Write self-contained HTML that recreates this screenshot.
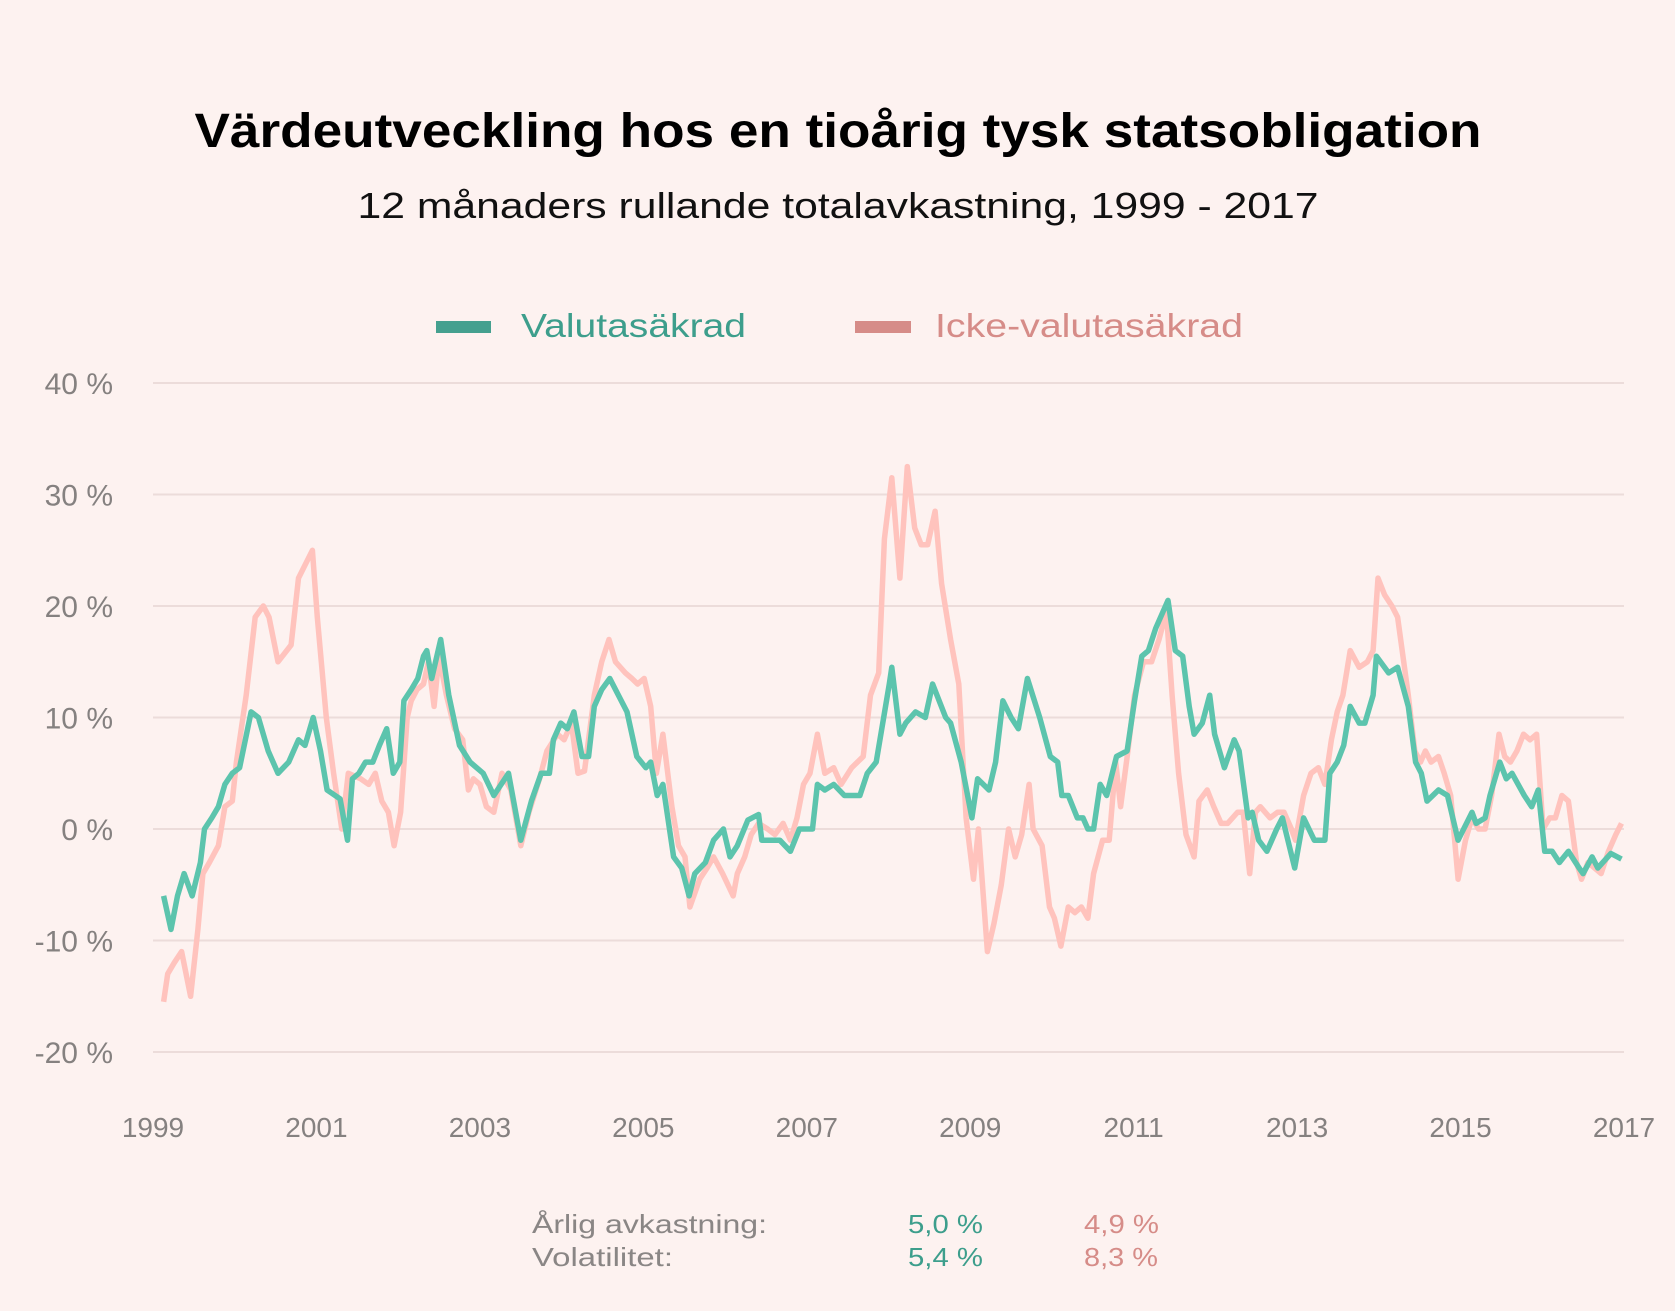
<!DOCTYPE html>
<html><head><meta charset="utf-8"><style>
html,body{margin:0;padding:0;background:#fdf2f0;}
svg{display:block;}
text{font-family:"Liberation Sans",sans-serif;}
</style></head><body>
<svg id="chart" width="1675" height="1311" viewBox="0 0 1675 1311" xmlns="http://www.w3.org/2000/svg">
<rect width="1675" height="1311" fill="#fdf2f0"/>
<text x="838" y="147" text-anchor="middle" font-size="48" font-weight="bold" fill="#000" textLength="1287" lengthAdjust="spacingAndGlyphs">Värdeutveckling hos en tioårig tysk statsobligation</text>
<text x="838" y="218" text-anchor="middle" font-size="36" fill="#111" textLength="961" lengthAdjust="spacingAndGlyphs">12 månaders rullande totalavkastning, 1999 - 2017</text>
<g>
<rect x="436" y="321" width="55" height="12" fill="#45a08f"/>
<text x="521" y="337" font-size="33" fill="#3d9e8c" textLength="225" lengthAdjust="spacingAndGlyphs">Valutasäkrad</text>
<rect x="855" y="321" width="56" height="12" fill="#d68c88"/>
<text x="935" y="337" font-size="33" fill="#d68c88" textLength="308" lengthAdjust="spacingAndGlyphs">Icke-valutasäkrad</text>
</g>
<g id="grid"></g>
<g id="yaxis"></g>
<g id="xaxis"></g>
<g id="series"></g>
<g font-size="26">
<text x="532" y="1233" fill="#8a8685" textLength="235" lengthAdjust="spacingAndGlyphs">Årlig avkastning:</text>
<text x="532" y="1266" fill="#8a8685" textLength="141" lengthAdjust="spacingAndGlyphs">Volatilitet:</text>
<text x="908" y="1233" fill="#3d9e8c" textLength="75" lengthAdjust="spacingAndGlyphs">5,0 %</text>
<text x="908" y="1266" fill="#3d9e8c" textLength="75" lengthAdjust="spacingAndGlyphs">5,4 %</text>
<text x="1084" y="1233" fill="#d68c88" textLength="75" lengthAdjust="spacingAndGlyphs">4,9 %</text>
<text x="1084" y="1266" fill="#d68c88" textLength="74" lengthAdjust="spacingAndGlyphs">8,3 %</text>
</g>
</svg>
<script>
const yTicks = [40, 30, 20, 10, 0, -10, -20];
const xTicks = [1999, 2001, 2003, 2005, 2007, 2009, 2011, 2013, 2015, 2017];
const greenDates = [0.13,0.22,0.30,0.38,0.48,0.58,0.63,0.72,0.80,0.88,0.97,1.06,1.20,1.29,1.41,1.53,1.66,1.78,1.86,1.96,2.05,2.13,2.29,2.38,2.44,2.52,2.60,2.69,2.77,2.86,2.94,3.02,3.07,3.16,3.24,3.31,3.35,3.41,3.52,3.62,3.75,3.88,4.04,4.17,4.35,4.50,4.63,4.75,4.85,4.90,4.99,5.07,5.15,5.25,5.33,5.40,5.49,5.59,5.80,5.92,6.03,6.09,6.17,6.24,6.37,6.47,6.56,6.63,6.76,6.86,6.98,7.06,7.15,7.28,7.41,7.45,7.67,7.80,7.91,8.07,8.13,8.22,8.33,8.46,8.65,8.74,8.85,9.01,9.04,9.14,9.21,9.33,9.45,9.54,9.70,9.76,9.89,10.02,10.09,10.23,10.31,10.40,10.50,10.59,10.70,10.85,10.98,11.07,11.12,11.20,11.31,11.38,11.44,11.51,11.59,11.67,11.79,11.92,12.01,12.10,12.18,12.27,12.42,12.51,12.60,12.68,12.74,12.84,12.93,12.99,13.11,13.23,13.29,13.40,13.45,13.53,13.63,13.75,13.82,13.97,14.08,14.21,14.34,14.40,14.49,14.57,14.65,14.76,14.83,14.93,14.97,15.12,15.23,15.36,15.45,15.52,15.59,15.73,15.84,15.97,16.14,16.19,16.30,16.36,16.48,16.56,16.63,16.78,16.87,16.95,17.03,17.12,17.21,17.32,17.45,17.50,17.61,17.68,17.84,17.97];
const greenValues = [-6,-9,-6,-4,-6,-3,0,1,2,4,5,5.5,10.5,10,7,5,6,8,7.5,10,7,3.5,2.7,-1,4.5,5,6,6,7.5,9,5,6,11.5,12.5,13.5,15.5,16,13.5,17,12,7.5,6,5,3,5,-1,2.5,5,5,8,9.5,9,10.5,6.5,6.5,11,12.5,13.5,10.5,6.5,5.5,6,3,4,-2.5,-3.5,-6,-4,-3,-1,0,-2.5,-1.5,0.8,1.3,-1,-1,-2,0,0,4,3.5,4,3,3,5,6,13,14.5,8.5,9.5,10.5,10,13,10,9.5,6,1,4.5,3.5,6,11.5,10,9,13.5,10,6.5,6,3,3,1,1,0,0,4,3,6.5,7,11.5,15.5,16,18,20.5,16,15.5,11,8.5,9.5,12,8.5,5.5,8,7,1,1.5,-1,-2,0,1,-3.5,1,-1,-1,5,6,7.5,11,9.5,9.5,12,15.5,14,14.5,11,6,5,2.5,3.5,3,-1,1.5,0.5,1,3,6,4.5,5,3,2,3.5,-2,-2,-3,-2,-3.5,-4,-2.5,-3.5,-2.2,-2.7];
const pinkDates = [0.13,0.18,0.26,0.35,0.46,0.55,0.61,0.69,0.80,0.88,0.97,1.02,1.14,1.25,1.35,1.42,1.53,1.69,1.78,1.95,2.01,2.12,2.21,2.31,2.39,2.54,2.64,2.72,2.80,2.88,2.95,3.03,3.11,3.16,3.23,3.31,3.37,3.44,3.50,3.59,3.69,3.79,3.86,3.92,4.00,4.08,4.17,4.27,4.38,4.50,4.60,4.73,4.82,4.95,5.03,5.12,5.20,5.28,5.40,5.49,5.58,5.66,5.78,5.86,5.93,6.01,6.09,6.16,6.24,6.35,6.43,6.51,6.57,6.69,6.78,6.86,6.97,7.10,7.15,7.24,7.32,7.41,7.52,7.61,7.71,7.80,7.88,7.96,8.04,8.13,8.22,8.33,8.42,8.55,8.69,8.78,8.88,8.95,9.04,9.14,9.23,9.32,9.40,9.48,9.57,9.65,9.76,9.86,9.95,10.04,10.10,10.21,10.29,10.38,10.47,10.55,10.63,10.72,10.77,10.88,10.97,11.03,11.11,11.20,11.28,11.36,11.44,11.51,11.62,11.70,11.78,11.84,11.93,12.01,12.12,12.22,12.31,12.40,12.47,12.55,12.64,12.74,12.80,12.90,12.98,13.07,13.15,13.27,13.34,13.42,13.49,13.55,13.67,13.76,13.84,13.93,13.98,14.08,14.17,14.26,14.34,14.42,14.49,14.56,14.65,14.76,14.86,14.93,14.99,15.07,15.16,15.23,15.36,15.44,15.51,15.57,15.64,15.73,15.80,15.88,15.97,16.06,16.14,16.22,16.30,16.38,16.47,16.54,16.61,16.69,16.77,16.85,16.93,17.01,17.09,17.16,17.24,17.32,17.42,17.48,17.56,17.64,17.72,17.81,17.90,17.97];
const pinkValues = [-15.5,-13,-12,-11,-15,-9,-4,-3,-1.5,2,2.5,6,12,19,20,19,15,16.5,22.5,25,19,10,5,0,5,4.5,4,5,2.5,1.5,-1.5,1.5,10,11.5,12.5,13,15,11,15.5,12,9,8,3.5,4.5,4,2,1.5,5,3.5,-1.5,1.5,4.5,7,8.5,8,9.5,5,5.2,12,15,17,15,14,13.5,13,13.5,11,5,8.5,2,-1.5,-2.5,-7,-4.5,-3.5,-2.5,-4,-6,-4,-2.5,-0.5,0.5,0,-0.5,0.5,-1,1,4,5,8.5,5,5.5,4,5.5,6.5,12,14,26,31.5,22.5,32.5,27,25.5,25.5,28.5,22,17,13,1,-4.5,0,-11,-8.5,-5,0,-2.5,-0.5,4,0,-1.5,-7,-8,-10.5,-7,-7.5,-7,-8,-4,-1,-1,6,2,7,12,15,15,17,19.5,12,5,-0.5,-2.5,2.5,3.5,2,0.5,0.5,1.5,1.5,-4,1.5,2,1,1.5,1.5,0,-1,3,5,5.5,4,8,10.5,12,16,14.5,15,16,22.5,21,20,19,12,7,6,7,6,6.5,5,3,-4.5,-1,1,0,0,3,8.5,6.5,6,7,8.5,8,8.5,0,1,1,3,2.5,-3,-4.5,-3,-3.5,-4,-2,-0.5,0.5];

const NS = "http://www.w3.org/2000/svg";
const X0 = 153, X1 = 1624, Y40 = 383, Ym20 = 1052;
function xScale(t) { return X0 + (t - 1999) / 18 * (X1 - X0); }
function yScale(v) { return Y40 + (40 - v) / 60 * (Ym20 - Y40); }

const grid = document.getElementById('grid');
const yaxis = document.getElementById('yaxis');
yTicks.forEach(v => {
  const l = document.createElementNS(NS, 'line');
  
  
  l.setAttribute('x1', X0); l.setAttribute('x2', X1);
  l.setAttribute('y1', yScale(v)); l.setAttribute('y2', yScale(v));
  l.setAttribute('stroke', '#ecdcda'); l.setAttribute('stroke-width', '2');
  grid.appendChild(l);
  const t = document.createElementNS(NS, 'text');
  
  
  t.setAttribute('x', 113); t.setAttribute('y', yScale(v) + 11);
  t.setAttribute('text-anchor', 'end');
  t.setAttribute('font-size', '30');
  t.setAttribute('fill', '#858180');
  t.setAttribute('style', 'font-family:"Liberation Sans Narrow","Liberation Sans",sans-serif');
  t.textContent = v + ' %';
  yaxis.appendChild(t);
});
const xaxis = document.getElementById('xaxis');
xTicks.forEach(y => {
  const t = document.createElementNS(NS, 'text');
  
  
  t.setAttribute('x', xScale(y)); t.setAttribute('y', 1137);
  t.setAttribute('text-anchor', 'middle');
  t.setAttribute('font-size', '28');
  t.setAttribute('fill', '#858180');
  t.textContent = y;
  xaxis.appendChild(t);
});
const series = document.getElementById('series');
function drawLine(dates, vals, color, name) {
  const p = document.createElementNS(NS, 'path');
  
  
  let d = '';
  dates.forEach((t, i) => { d += (i ? 'L' : 'M') + xScale(1999 + t).toFixed(1) + ',' + yScale(vals[i]).toFixed(1); });
  p.setAttribute('d', d);
  p.setAttribute('fill', 'none');
  p.setAttribute('stroke', color);
  p.setAttribute('stroke-width', '5.5');
  p.setAttribute('stroke-linejoin', 'round');
  series.appendChild(p);
}
drawLine(pinkDates, pinkValues, '#ffc3bd', 'line-icke-valutasakrad');
drawLine(greenDates, greenValues, '#5cc4ad', 'line-valutasakrad');
</script>
</body></html>
